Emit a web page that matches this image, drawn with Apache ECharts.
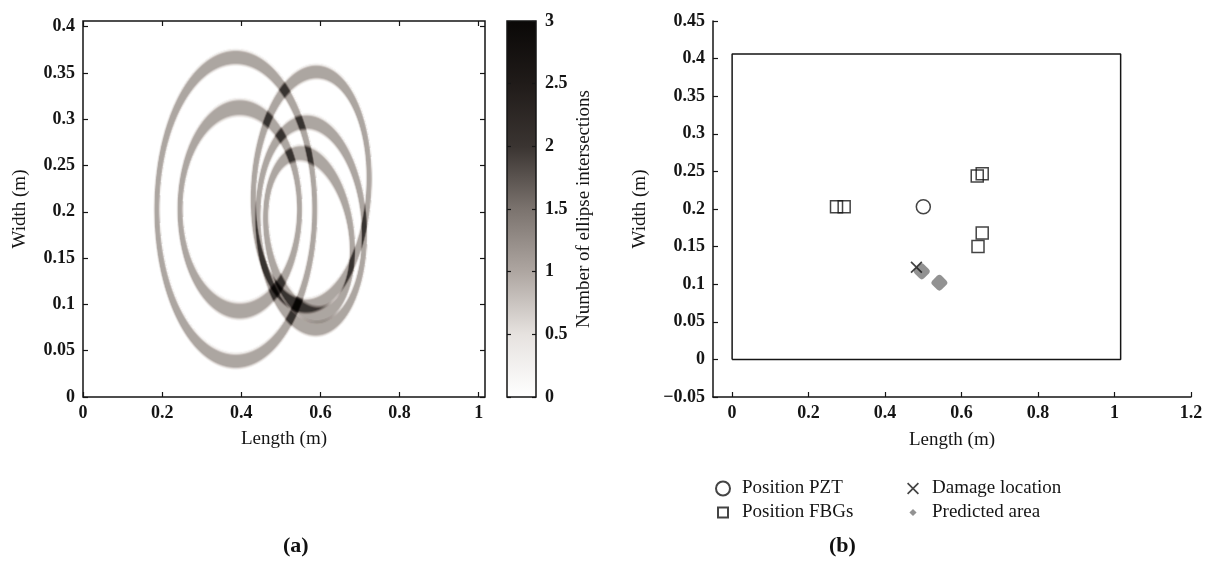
<!DOCTYPE html>
<html><head><meta charset="utf-8">
<script src="https://cdn.jsdelivr.net/npm/echarts@6/dist/echarts.min.js"></script>
<style>html,body{margin:0;padding:0;background:#fff}#c{width:1206px;height:573px}</style>
</head><body><div id="c"></div>
<script>
// ---------------- data ----------------
const plateSize = [1.016, 0.406];                 // plate length, width (m)
const pztPos = [0.5, 0.203];                      // PZT actuator
const fbgX = [0.273, 0.293, 0.641, 0.654, 0.654, 0.643];
const fbgY = [0.203, 0.203, 0.244, 0.247, 0.168, 0.150];
const damagePos = [0.482, 0.1225];
const predX = [0.496, 0.542];
const predY = [0.117, 0.102];
// ellipses of panel (a): foci = PZT and one FBG, constant travelled path
const ellipseSensor = [0, 1, 3, 4, 5];
const ellipsePath = [0.399, 0.302, 0.296, 0.2715, 0.2256];
const bandCore = 0.010, bandEdge = 0.016;         // path tolerance of a band (m)
const aXTicks = [0, 0.2, 0.4, 0.6, 0.8, 1];
const aYTicks = [0, 0.05, 0.1, 0.15, 0.2, 0.25, 0.3, 0.35, 0.4];
const cbTicks = [0, 0.5, 1, 1.5, 2, 2.5, 3];
const bXTicks = [0, 0.2, 0.4, 0.6, 0.8, 1, 1.2];
const bYTicks = [-0.05, 0, 0.05, 0.1, 0.15, 0.2, 0.25, 0.3, 0.35, 0.4, 0.45];
const intensityColors = ['#ffffff', '#e6e2df', '#aea6a1', '#7b736e', '#3a3431', '#201b19', '#0a0807'];
const seriesNames = ['Position PZT', 'Position FBGs', 'Damage location', 'Predicted area'];

// ---------------- build intersection-count image ----------------
const NX = 402, NY = 376;
const xCats = [], yCats = [];
for (let i = 0; i < NX; i++) xCats.push(String(i));
for (let j = 0; j < NY; j++) yCats.push(String(j));
const heat = [];
for (let j = 0; j < NY; j++) {
  const y = (j + 0.5) / NY * plateSize[1];
  for (let i = 0; i < NX; i++) {
    const x = (i + 0.5) / NX * plateSize[0];
    const d0 = Math.hypot(x - pztPos[0], y - pztPos[1]);
    let v = 0;
    for (let k = 0; k < ellipseSensor.length; k++) {
      const f = ellipseSensor[k];
      const s = d0 + Math.hypot(x - fbgX[f], y - fbgY[f]);
      const dev = Math.abs(s - ellipsePath[k]);
      if (dev < bandEdge) v += Math.min(1, (bandEdge - dev) / (bandEdge - bandCore));
    }
    if (v > 0.02) heat.push([i, j, Math.round(v * 1000) / 1000]);
  }
}

const serif = 'Liberation Serif';
const ink = '#151515';
const tickLbl = { fontFamily: serif, fontWeight: 'bold', fontSize: 18, color: ink };
const nameStyle = { fontFamily: serif, fontSize: 19, color: ink };
const minus = v => String(v).replace('-', '\u2212');
const tickStyle = { color: ink, width: 1.2 };

const chart = echarts.init(document.getElementById('c'), null, { renderer: 'canvas' });
const G = { left: 83, top: 21, width: 402, height: 376 };
const cb = { left: 507, top: 21, width: 29, height: 376 };
const GB = { left: 713, top: 21, width: 478, height: 376 };

const option = {
  animation: false,
  backgroundColor: '#fff',
  textStyle: { fontFamily: serif },
  grid: [
    Object.assign({}, G),
    Object.assign({ show: true, borderColor: ink, borderWidth: 1.5, backgroundColor: 'transparent' }, G),
    Object.assign({ show: true, borderColor: ink, borderWidth: 1.5, backgroundColor: 'transparent' }, cb),
    Object.assign({}, GB)
  ],
  xAxis: [
    { type: 'category', gridIndex: 0, data: xCats, show: false },
    { type: 'value', gridIndex: 1, min: 0, max: plateSize[0], position: 'bottom',
      axisLine: { show: false, onZero: false }, splitLine: { show: false },
      axisTick: { inside: true, length: 5, customValues: aXTicks, lineStyle: tickStyle },
      axisLabel: Object.assign({ margin: 7, customValues: aXTicks }, tickLbl),
      name: 'Length (m)', nameLocation: 'middle', nameGap: 33, nameTextStyle: nameStyle },
    { type: 'value', gridIndex: 1, min: 0, max: plateSize[0], position: 'top',
      axisLine: { show: false, onZero: false }, splitLine: { show: false }, axisLabel: { show: false },
      axisTick: { inside: true, length: 5, customValues: aXTicks, lineStyle: tickStyle } },
    { type: 'value', gridIndex: 2, min: 0, max: 1, show: false, axisLine: { onZero: false } },
    { type: 'value', gridIndex: 3, min: -0.05, max: 1.2, position: 'bottom',
      axisLine: { show: true, onZero: false, lineStyle: { color: ink, width: 1.5 } }, splitLine: { show: false },
      axisTick: { inside: true, length: 5, customValues: bXTicks, lineStyle: tickStyle },
      axisLabel: Object.assign({ margin: 7, customValues: bXTicks, formatter: minus }, tickLbl),
      name: 'Length (m)', nameLocation: 'middle', nameGap: 34, nameTextStyle: nameStyle }
  ],
  yAxis: [
    { type: 'category', gridIndex: 0, data: yCats, show: false },
    { type: 'value', gridIndex: 1, min: 0, max: plateSize[1], position: 'left',
      axisLine: { show: false, onZero: false }, splitLine: { show: false },
      axisTick: { inside: true, length: 5, customValues: aYTicks, lineStyle: tickStyle },
      axisLabel: Object.assign({ margin: 8, customValues: aYTicks }, tickLbl),
      name: 'Width (m)', nameLocation: 'middle', nameRotate: 90, nameGap: 53, nameTextStyle: nameStyle },
    { type: 'value', gridIndex: 1, min: 0, max: plateSize[1], position: 'right',
      axisLine: { show: false, onZero: false }, splitLine: { show: false }, axisLabel: { show: false },
      axisTick: { inside: true, length: 5, customValues: aYTicks, lineStyle: tickStyle } },
    { type: 'value', gridIndex: 2, min: 0, max: 3, position: 'right',
      axisLine: { show: false, onZero: false }, splitLine: { show: false },
      axisTick: { inside: true, length: 4, customValues: cbTicks, lineStyle: tickStyle },
      axisLabel: Object.assign({ margin: 9, customValues: cbTicks }, tickLbl),
      name: 'Number of ellipse intersections', nameLocation: 'middle', nameRotate: 90, nameGap: 39,
      nameTextStyle: nameStyle },
    { type: 'value', gridIndex: 2, min: 0, max: 3, position: 'left',
      axisLine: { show: false, onZero: false }, splitLine: { show: false }, axisLabel: { show: false },
      axisTick: { inside: true, length: 4, customValues: cbTicks, lineStyle: tickStyle } },
    { type: 'value', gridIndex: 3, min: -0.05, max: 0.45, position: 'left',
      axisLine: { show: true, onZero: false, lineStyle: { color: ink, width: 1.5 } }, splitLine: { show: false },
      axisTick: { inside: true, length: 5, customValues: bYTicks, lineStyle: tickStyle },
      axisLabel: Object.assign({ margin: 8, customValues: bYTicks, formatter: minus }, tickLbl),
      name: 'Width (m)', nameLocation: 'middle', nameRotate: 90, nameGap: 63, nameTextStyle: nameStyle }
  ],
  visualMap: [{ type: 'continuous', seriesIndex: 0, min: 0, max: 3, show: false,
    inRange: { color: intensityColors } }],
  graphic: [
    { type: 'rect', z: -5, shape: { x: cb.left, y: cb.top, width: cb.width, height: cb.height },
      style: { fill: new echarts.graphic.LinearGradient(0, 1, 0, 0,
        intensityColors.map((c, i) => ({ offset: i / (intensityColors.length - 1), color: c }))) } },
    { type: 'text', left: 283, top: 535, style: { text: '(a)', font: 'bold 22px "Liberation Serif"', fill: '#111' } },
    { type: 'text', left: 829, top: 535, style: { text: '(b)', font: 'bold 22px "Liberation Serif"', fill: '#111' } }
  ],
  legend: [
    { orient: 'vertical', left: 710, top: 474, itemWidth: 14, itemHeight: 14, itemGap: 5, selectedMode: false,
      data: [{ name: seriesNames[0], icon: 'circle' }, { name: seriesNames[1], icon: 'path://M0,0M14,14M2,2L12,2L12,12L2,12Z' }],
      textStyle: { fontFamily: serif, fontSize: 19, color: ink, lineHeight: 18, padding: [0, 0, 0, 7] } },
    { orient: 'vertical', left: 902, top: 474, itemWidth: 12, itemHeight: 14, itemGap: 5, selectedMode: false,
      data: [{ name: seriesNames[2] }, { name: seriesNames[3], icon: 'path://M0,0M10,10M5,2L8,5L5,8L2,5Z' }],
      textStyle: { fontFamily: serif, fontSize: 19, color: ink, lineHeight: 18, padding: [0, 0, 0, 8] } }
  ],
  series: [
    { type: 'heatmap', xAxisIndex: 0, yAxisIndex: 0, data: heat, progressive: 0, silent: true,
      emphasis: { disabled: true }, itemStyle: { borderWidth: 0 } },
    { type: 'line', xAxisIndex: 4, yAxisIndex: 5, silent: true, symbol: 'none',
      lineStyle: { color: ink, width: 1.5 },
      data: [[0, 0], [plateSize[0], 0], [plateSize[0], plateSize[1]], [0, plateSize[1]], [0, 0]] },
    { name: seriesNames[0], type: 'scatter', xAxisIndex: 4, yAxisIndex: 5, symbol: 'circle', symbolSize: 14,
      itemStyle: { color: 'rgba(255,255,255,0)', borderColor: ink, borderWidth: 1.5 }, data: [pztPos] },
    { name: seriesNames[1], type: 'scatter', xAxisIndex: 4, yAxisIndex: 5, symbol: 'rect', symbolSize: 12,
      itemStyle: { color: 'rgba(255,255,255,0)', borderColor: ink, borderWidth: 1.5 },
      data: fbgX.map((x, i) => [x, fbgY[i]]) },
    { name: seriesNames[2], type: 'scatter', xAxisIndex: 4, yAxisIndex: 5, z: 4,
      symbol: 'path://M1,0L5,4L9,0L10,1L6,5L10,9L9,10L5,6L1,10L0,9L4,5L0,1Z', symbolSize: 12,
      itemStyle: { color: ink }, data: [damagePos] },
    { name: seriesNames[3], type: 'scatter', xAxisIndex: 4, yAxisIndex: 5, symbol: 'roundRect', symbolRotate: 45,
      symbolSize: 13, itemStyle: { color: '#777777' }, data: predX.map((x, i) => [x, predY[i]]) }
  ]
};
chart.setOption(option);
</script></body></html>
